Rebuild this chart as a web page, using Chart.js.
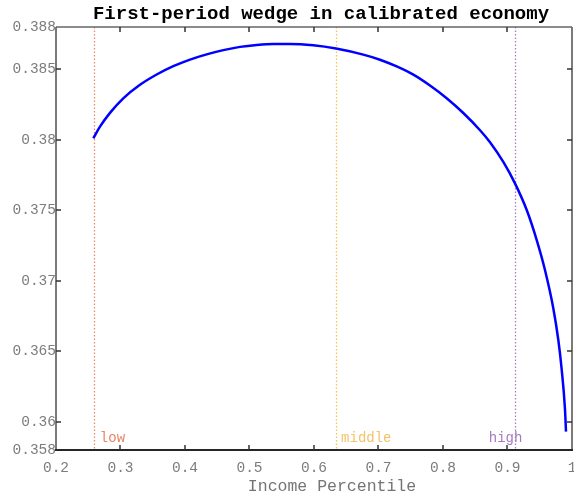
<!DOCTYPE html>
<html>
<head>
<meta charset="utf-8">
<script src="https://cdn.jsdelivr.net/npm/chart.js@4/dist/chart.umd.min.js"></script>
<style>
html,body{margin:0;padding:0;background:#fff;}
#wrap{width:574px;height:493px;position:relative;}
</style>
</head>
<body>
<div id="wrap"><canvas id="c" width="574" height="493"></canvas></div>
<script>
// ---- data ----
const percentile = [0.2578,0.2682,0.2837,0.3043,0.3302,0.3561,0.3819,0.4078,0.4336,0.4594,0.4853,0.5112,0.5369,0.5628,0.5989,0.6341,0.6764,0.7023,0.7282,0.7540,0.7798,0.8057,0.8315,0.8574,0.8729,0.8935,0.9116,0.9298,0.9453,0.9581,0.9710,0.9788,0.9840,0.9891,0.9907];
const wedge = [0.38011,0.38093,0.38191,0.38294,0.38390,0.38463,0.38522,0.38569,0.38606,0.38636,0.38659,0.38673,0.38680,0.38680,0.38670,0.38647,0.38604,0.38568,0.38520,0.38462,0.38385,0.38295,0.38190,0.38068,0.37983,0.37843,0.37691,0.37502,0.37289,0.37077,0.36806,0.36580,0.36372,0.36091,0.35930];
const xTicks = [0.2,0.3,0.4,0.5,0.6,0.7,0.8,0.9,1];
const yTicks = [0.358,0.36,0.365,0.37,0.375,0.38,0.385,0.388];
const groupNames = ['low','middle','high'];
const groupLineX = [0.2585,0.634,0.912];
const groupLabelX = [0.268,0.642,0.871];
const groupLabelY = [0.35885,0.35885,0.35885];
const titleText = 'First-period wedge in calibrated economy';
const xTitle = 'Income Percentile';

const groupLineColors = ['#ec8a6c','#f5c453','#a77cc4'];
const groupTextColors = ['#e8846a','#f1c36a','#a57ac0'];
const MONO = '"Liberation Mono","DejaVu Sans Mono",monospace';

const decor = {
  id:'decor',
  beforeDatasetsDraw(chart){
    const {ctx, chartArea:a, scales:{x}} = chart;
    ctx.save();
    ctx.lineWidth = 1.3;
    ctx.setLineDash([1.5,2]);
    groupLineX.forEach((v,i)=>{
      const px = Math.round(x.getPixelForValue(v))+0.5;
      ctx.strokeStyle = groupLineColors[i];
      ctx.beginPath(); ctx.moveTo(px,a.top); ctx.lineTo(px,a.bottom); ctx.stroke();
    });
    ctx.restore();
  },
  afterDraw(chart){
    const {ctx, chartArea:a, scales:{x,y}} = chart;
    ctx.save();
    // box
    ctx.lineWidth = 2;
    ctx.strokeStyle = '#7a7a7a';
    ctx.beginPath(); ctx.moveTo(a.left,a.bottom); ctx.lineTo(a.left,a.top); ctx.stroke();
    ctx.beginPath(); ctx.moveTo(a.right,a.bottom); ctx.lineTo(a.right,a.top); ctx.stroke();
    ctx.strokeStyle = '#666';
    ctx.lineWidth = 1.5;
    ctx.beginPath(); ctx.moveTo(a.left,a.top); ctx.lineTo(a.right,a.top); ctx.stroke();
    ctx.strokeStyle = '#262626';
    ctx.lineWidth = 2;
    ctx.beginPath(); ctx.moveTo(a.left-1,a.bottom); ctx.lineTo(a.right+1,a.bottom); ctx.stroke();
    // inward ticks
    ctx.strokeStyle = '#333';
    ctx.lineWidth = 1.5;
    const tl = 5;
    xTicks.forEach(v=>{
      const px = Math.round(x.getPixelForValue(v));
      if (v<=0.2 || v>=1) return;
      ctx.beginPath(); ctx.moveTo(px,a.bottom); ctx.lineTo(px,a.bottom-tl); ctx.stroke();
      ctx.beginPath(); ctx.moveTo(px,a.top); ctx.lineTo(px,a.top+tl); ctx.stroke();
    });
    yTicks.forEach(v=>{
      const py = Math.round(y.getPixelForValue(v));
      if (v<=0.358 || v>=0.388) return;
      ctx.beginPath(); ctx.moveTo(a.left,py); ctx.lineTo(a.left+tl,py); ctx.stroke();
      ctx.beginPath(); ctx.moveTo(a.right,py); ctx.lineTo(a.right-tl,py); ctx.stroke();
    });
    // group labels
    ctx.font = '14px ' + MONO;
    ctx.textAlign = 'left';
    ctx.textBaseline = 'middle';
    groupNames.forEach((n,i)=>{
      ctx.fillStyle = groupTextColors[i];
      ctx.fillText(n, x.getPixelForValue(groupLabelX[i]), y.getPixelForValue(groupLabelY[i]));
    });
    // title
    ctx.fillStyle = '#000';
    ctx.font = 'bold 19px ' + MONO;
    ctx.textAlign = 'center';
    ctx.textBaseline = 'middle';
    ctx.fillText(titleText, 321, 14);
    // x axis title
    ctx.fillStyle = '#747474';
    ctx.font = '16.5px ' + MONO;
    ctx.fillText(xTitle, 332, 487);
    ctx.restore();
  }
};

new Chart(document.getElementById('c'), {
  type:'scatter',
  data:{
    datasets:[{
      data: percentile.map((v,i)=>({x:v,y:wedge[i]})),
      showLine:true,
      borderColor:'#0000ff',
      borderWidth:2.5,
      pointRadius:0,
      fill:false,
      cubicInterpolationMode:'monotone'
    }]
  },
  options:{
    responsive:false,
    animation:false,
    devicePixelRatio:1,
    layout:{padding:{left:0,right:2,top:27,bottom:0}},
    plugins:{legend:{display:false},tooltip:{enabled:false},title:{display:false}},
    scales:{
      x:{
        type:'linear', min:0.2, max:1,
        grid:{display:false, drawTicks:false},
        border:{display:false},
        afterBuildTicks(s){ s.ticks = xTicks.map(v=>({value:v})); },
        afterFit(s){ s.height = 43; s.paddingLeft = 0; s.paddingRight = 0; },
        ticks:{
          padding:9, maxRotation:0, autoSkip:false,
          color:'#7c7c7c',
          font:{family:MONO, size:14.5},
          callback:v=>String(+Number(v).toFixed(3))
        }
      },
      y:{
        type:'linear', min:0.358, max:0.388,
        grid:{display:false, drawTicks:false},
        border:{display:false},
        afterBuildTicks(s){ s.ticks = yTicks.map(v=>({value:v})); },
        afterFit(s){ s.width = 56; s.paddingTop = 0; s.paddingBottom = 0; },
        ticks:{
          padding:0, autoSkip:false,
          color:'#7c7c7c',
          font:{family:MONO, size:14.5},
          callback:v=>String(+Number(v).toFixed(3))
        }
      }
    }
  },
  plugins:[decor]
});
</script>
</body>
</html>
